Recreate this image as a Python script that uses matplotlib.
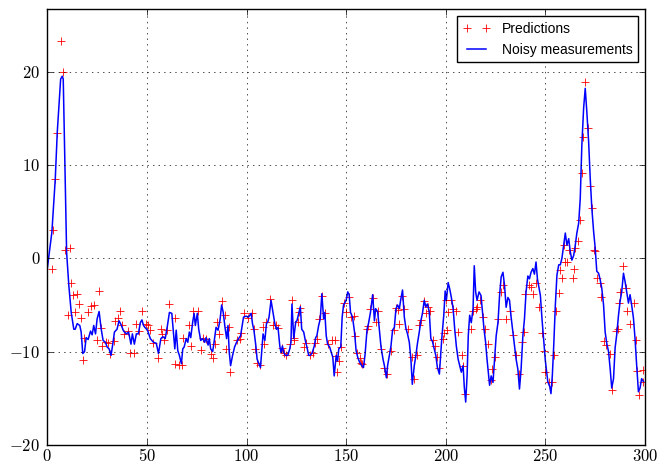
import matplotlib
matplotlib.use('Agg')
import matplotlib.pyplot as plt
from matplotlib.ticker import FuncFormatter

meas_t = [0, 2.3, 4, 5, 6.7, 7.5, 8, 8.7, 9.7, 10.8, 12, 13.3, 14, 15, 16.3, 17, 17.8, 18.7, 19.5, 20.5,
          21.7, 22.5, 23.3, 24.2, 25, 26, 27, 28, 29.2, 30, 31, 32, 33, 33.7, 35, 36, 37, 38.3, 39.7, 40.8,
          42, 42.7, 43.7, 44.7, 45.7, 46.7, 47.5, 48.3, 49, 50.3, 51.7, 53.3, 54.7, 55.8, 57, 58, 59.2, 60.3,
          61.3, 62.5, 63.3, 64, 64.7, 65.5, 66.3, 67.3, 68, 68.7, 69.7, 70.5, 71.3, 72, 73, 73.7, 74.3, 75.3,
          76, 77, 78, 79, 79.7, 80.7, 81.3, 82, 83, 83.7, 84.7, 85.7, 86.7, 87.5, 88.3, 89.2, 90, 90.7, 91.3,
          92, 93, 94, 95, 96, 97, 98.5, 99.7, 101, 102.3, 103, 103.7, 104.7, 105.3, 106.2, 107, 107.7, 108.3,
          109.2, 110, 110.7, 111.3, 112.3, 113.3, 114.2, 115, 115.8, 116.7, 117.3, 118, 118.7, 119.5, 120.7,
          121.7, 122.3, 122.8, 123.7, 124.7, 125.3, 126, 127, 127.7, 128.7, 129.5, 130.3, 131.2, 132, 133,
          134, 134.7, 135.3, 136.2, 137, 137.8, 138.7, 139.3, 140, 140.7, 141.7, 142.3, 143.3, 144, 145,
          145.7, 146.3, 147.3, 148, 148.7, 150, 150.8, 151.5, 152.2, 153.2, 154.2, 155, 155.8, 156.7, 157.8,
          158.7, 159.5, 160.5, 161.2, 162.2, 163.3, 164.2, 164.8, 165.8, 166.7, 167.5, 168.5, 169.2, 170.2,
          170.8, 171.7, 172.5, 173.3, 174.2, 175, 175.8, 176.7, 177.5, 178.3, 179.2, 180, 180.8, 181.7,
          182.5, 183.2, 184.2, 185, 185.8, 186.7, 187.5, 188.3, 189.2, 190, 190.8, 191.7, 192.5, 193.3, 194,
          195, 195.8, 196.8, 198, 199, 199.7, 200.3, 201.2, 202, 202.8, 203.7, 204.5, 205.3, 206.2, 207,
          207.8, 208.7, 209.3, 210, 210.7, 211.3, 212, 212.8, 213.7, 214.3, 215, 215.7, 216.7, 217.7, 218.3,
          219.2, 220, 220.7, 221.5, 222, 222.8, 223.7, 224.5, 225.3, 226.2, 227, 227.8, 228.7, 229.5, 230.3,
          231.2, 232, 232.8, 233.7, 234.5, 235.3, 236.2, 237, 237.8, 238.7, 239.5, 240.3, 241.2, 242, 242.8,
          243.7, 244.5, 245.3, 246, 247.5, 248.3, 249.2, 250, 251.2, 252.2, 252.8, 253.5, 254.2, 255, 255.8,
          256.7, 257.5, 258.3, 259.2, 260, 260.8, 261.7, 262.5, 263.3, 264.2, 265, 265.8, 266.7, 267.5,
          268.3, 269.2, 270, 270.8, 271.7, 272.5, 273.3, 274.2, 275, 275.8, 276.7, 277.5, 278.3, 279.2, 280,
          280.8, 281.7, 282.5, 283.3, 284.2, 285, 285.8, 286.7, 287.5, 288.3, 289.2, 290, 290.8, 291.7,
          292.5, 293.3, 294.2, 295, 295.8, 296.7, 297.5, 298.3, 299.2]
meas_v = [-1.1, 2.8, 8.5, 13.5, 19.2, 19.5, 19.2, 11.4, 0.6, -2.9, -5.8, -7.6, -7.6, -7.0, -7.2, -7.9, -10.2,
          -10.0, -8.5, -8.7, -7.8, -8.2, -7.2, -8.1, -6.5, -5.7, -7.5, -8.8, -9.0, -9.5, -9.7, -10.4, -9.0,
          -7.9, -7.6, -6.7, -7.1, -7.8, -8.1, -7.9, -9.2, -8.1, -9.2, -8.1, -8.1, -6.9, -6.6, -7.2, -7.4,
          -7.7, -8.6, -9.0, -9.1, -10.2, -8.6, -8.4, -8.6, -7.2, -5.8, -5.9, -7.9, -9.7, -7.7, -9.9, -10.4,
          -11.3, -9.7, -9.5, -8.6, -9.0, -7.9, -8.5, -6.8, -5.9, -7.2, -5.9, -7.6, -8.8, -8.6, -9.0, -8.5,
          -9.3, -8.6, -9.7, -10.0, -9.0, -7.4, -7.7, -6.6, -5.0, -5.8, -7.4, -8.6, -7.2, -10.0, -11.5, -10.4,
          -9.5, -9.0, -8.6, -8.3, -6.3, -6.2, -6.3, -5.9, -7.0, -7.7, -9.4, -10.8, -11.3, -11.7, -9.7, -8.1,
          -8.8, -7.0, -6.8, -6.3, -4.5, -5.8, -7.0, -7.6, -7.4, -9.4, -10.1, -9.4, -10.1, -10.4, -10.4, -9.7,
          -9.0, -4.9, -8.6, -6.8, -6.7, -6.1, -5.2, -7.6, -7.9, -8.8, -9.5, -10.4, -10.4, -10.1, -9.4, -8.5,
          -8.3, -7.2, -6.5, -3.8, -6.5, -5.8, -8.3, -9.2, -9.5, -9.9, -10.6, -12.6, -10.4, -11.0, -9.7, -9.5,
          -6.3, -5.0, -4.5, -3.6, -3.9, -5.8, -6.3, -7.9, -9.9, -10.6, -11.1, -11.5, -11.7, -10.3, -7.6, -7.0,
          -5.8, -3.9, -6.7, -5.4, -5.7, -7.7, -9.5, -10.8, -11.5, -12.8, -11.5, -10.4, -9.4, -7.7, -7.4,
          -5.4, -5.0, -5.4, -4.3, -3.4, -6.3, -7.5, -8.1, -9.0, -10.8, -13.5, -11.5, -10.4, -9.1, -7.9, -6.7,
          -5.9, -4.5, -5.2, -4.9, -5.7, -8.6, -8.9, -9.5, -10.4, -11.7, -12.4, -8.6, -6.1, -3.5, -4.5, -2.6,
          -3.3, -4.2, -5.4, -7.6, -9.4, -10.8, -11.5, -12.2, -11.5, -13.8, -15.4, -12.6, -8.3, -6.1, -6.9,
          -5.4, -0.8, -3.6, -4.5, -3.6, -4.0, -5.4, -7.6, -9.0, -10.8, -12.6, -13.6, -12.6, -13.3, -10.8,
          -8.3, -6.9, -4.0, -2.0, -1.5, -2.9, -5.25, -4.2, -4.5, -6.3, -7.9, -9.4, -10.8, -11.9, -14.0, -11.9,
          -8.3, -6.5, -3.6, -1.9, -2.2, -1.5, -1.1, -1.7, -0.4, -2.2, -4.0, -6.5, -8.9, -11.0, -13.2, -13.75,
          -14.5, -12.5, -9.3, -5.0, -1.8, -0.7, -0.7, 0.0, 1.4, 2.7, 1.4, 2.1, 0.7, -0.2, 0.3, 1.4, 2.7,
          3.75, 6.4, 12.1, 16.1, 18.2, 15.7, 12.5, 8.6, 5.4, 2.9, 1.1, -1.4, -1.6, -2.3, -3.2, -5.0, -7.9,
          -9.1, -10.0, -11.8, -13.9, -12.9, -9.6, -8.2, -6.1, -4.6, -3.6, -1.6, -2.5, -3.6, -4.8, -3.9, -5.0,
          -6.4, -8.6, -11.4, -14.3, -13.9, -12.9, -13.2]

# filter predictions (time step, value)
pred_t = [2.3, 3, 4, 5, 7, 8, 8.7, 10.3, 11.3, 12, 13, 14, 15, 16, 17, 18, 18.3, 20.3, 22, 23.3, 25, 26, 27,
          27.5, 29.3, 30.7, 31.7, 33.7, 34, 35.3, 36.7, 37.7, 38.7, 40.3, 41.7, 43.7, 44.7, 46, 47.7, 49.7,
          50.7, 51.7, 53.3, 55.8, 57, 57.7, 58.7, 60, 61.3, 64, 64.3, 66.3, 67.7, 68.3, 71.3, 72, 73.3, 75.8,
          77, 78.3, 79.7, 82, 83.3, 84, 85, 86, 87.5, 89.3, 89.7, 91.3, 91.7, 95, 96.7, 97.3, 98.7, 100.7,
          102.7, 103.7, 104, 105.3, 106.7, 108.3, 109, 110, 112, 113.3, 115, 115.7, 118, 118.7, 120, 122, 123,
          123.7, 124, 125.7, 126.3, 127, 128.7, 130, 131.7, 133.3, 134.3, 135.3, 136.3, 138, 139.5, 141, 143,
          144.5, 145, 145.3, 146.6, 147.2, 148.7, 150, 151.2, 152.5, 153.8, 154.5, 155.5, 156.8, 157.3, 158.2,
          160.5, 161.2, 162.2, 163.5, 164.8, 165.8, 167.5, 169.2, 170.5, 172.5, 173.8, 175, 175.8, 176.7, 178,
          179.2, 180.8, 183.3, 184.2, 185.5, 186.7, 187.5, 189.2, 190, 191.2, 192.2, 193.5, 194.8, 195.8,
          196.8, 198.7, 199.1, 200.2, 200.6, 201.2, 202.8, 203.7, 205, 206.2, 208.3, 208.7, 209.5, 212.8,
          213.7, 215, 215.7, 217, 218.7, 219.5, 221.2, 222.8, 223.3, 224.5, 226.2, 227.8, 228.7, 230.3, 232.3,
          233.7, 235.3, 236.7, 238.3, 239.5, 240, 242, 242.8, 243.7, 245.3, 247, 248.3, 249.2, 250, 251.7,
          253.3, 254.2, 255.5, 256.7, 257.5, 258.3, 259.5, 259.7, 260.8, 261.7, 263.8, 264.5, 265, 266.2,
          267.2, 268.3, 268.8, 270, 271.2, 272.2, 273.3, 274.2, 275, 275.8, 277.2, 277.8, 279.2, 280.5, 282.5,
          283.3, 285.5, 286.2, 287, 287.5, 289.2, 290.5, 291.2, 292.5, 294.5, 295.5, 295.8, 297.2, 298.8, 299.2]
pred_v = [-1.1, 3.0, 8.5, 13.4, 23.3, 19.9, 0.9, -6.1, 1.1, -2.7, -3.9, -5.8, -3.8, -4.9, -6.4, -10.9, -8.5,
          -5.8, -5.1, -5.0, -8.8, -3.5, -7.5, -9.4, -9.0, -9.1, -10.3, -8.9, -6.7, -6.4, -5.7, -7.2, -8.1,
          -7.8, -10.1, -10.1, -7.0, -7.8, -5.7, -7.0, -7.2, -7.7, -9.1, -10.7, -7.6, -8.1, -8.8, -7.7, -4.9,
          -11.3, -6.4, -11.4, -11.4, -8.5, -7.2, -9.4, -5.6, -5.6, -9.8, -8.5, -8.6, -10.2, -10.7, -9.2, -6.8,
          -8.1, -4.6, -6.1, -9.7, -7.4, -12.2, -8.8, -8.6, -8.0, -5.9, -6.4, -5.9, -7.6, -9.7, -11.2, -11.4,
          -7.4, -9.2, -6.8, -4.4, -7.1, -7.2, -7.5, -9.6, -10.1, -10.4, -9.2, -4.5, -8.8, -8.5, -6.8, -5.8,
          -5.3, -9.5, -9.1, -10.4, -10.1, -9.1, -8.6, -6.5, -4.0, -5.9, -9.2, -8.8, -8.8, -10.5, -12.2, -11.0,
          -9.5, -4.8, -5.8, -4.2, -6.3, -6.2, -8.3, -10.1, -10.7, -11.2, -11.3, -7.6, -7.3, -5.4, -4.3, -6.8,
          -5.6, -9.7, -11.7, -12.4, -9.9, -7.7, -5.3, -5.5, -7.0, -4.0, -5.4, -7.6, -10.6, -12.9, -10.4, -7.2,
          -6.6, -4.6, -5.9, -5.2, -5.7, -8.8, -9.4, -10.6, -11.7, -8.6, -8.0, -4.5, -7.7, -5.8, -4.5, -5.4,
          -5.6, -7.9, -10.4, -11.5, -14.5, -7.6, -5.6, -5.4, -5.25, -4.5, -6.3, -7.6, -9.2, -13.0, -11.9,
          -10.6, -6.5, -3.6, -2.9, -6.5, -5.6, -8.2, -10.4, -12.4, -9.0, -7.9, -3.8, -2.9, -3.1, -3.8, -2.6,
          -5.25, -8.0, -9.9, -12.2, -13.3, -13.3, -10.4, -5.7, -3.75, -1.25, -2.1, 1.4, -0.4, -0.4, 0.9, -2.1,
          -1.1, 1.1, 1.8, 4.1, 9.1, 13.0, 18.9, 14.0, 7.7, 5.4, 0.9, 0.8, -2.1, -2.6, -4.1, -8.9, -9.3, -10.3,
          -14.1, -7.8, -7.6, -4.8, -3.6, -0.8, -3.2, -5.7, -7.0, -4.8, -8.75, -12.1, -14.6, -12.0, -13.2]

plt.style.use('classic')
plt.rcParams['figure.facecolor'] = 'white'
plt.rcParams['savefig.facecolor'] = 'white'
plt.rcParams['mathtext.fontset'] = 'cm'

fig = plt.figure(figsize=(6.58, 4.64), dpi=100)
ax = fig.add_axes([47.3 / 658, 1 - 446 / 464, (645 - 47.3) / 658, (446 - 10) / 464])

ax.plot(pred_t, pred_v, 'r+', markersize=6, markeredgewidth=0.6, label='Predictions')
ax.plot(meas_t, meas_v, 'b-', linewidth=1.1, label='Noisy measurements')

ax.set_xlim(0, 300)
ax.set_ylim(-20, 26.7)
ax.set_xticks(range(0, 301, 50))
ax.set_yticks(range(-20, 21, 10))
tex = FuncFormatter(lambda v, p: f'${v:g}$')
ax.xaxis.set_major_formatter(tex)
ax.yaxis.set_major_formatter(tex)
ax.tick_params(labelsize=12)
ax.tick_params(axis='x', pad=1)
ax.tick_params(axis='y', pad=5)
ax.grid(True)

leg = ax.legend(loc='upper right', numpoints=2, prop={'family': 'Liberation Sans', 'size': 10})
leg.get_frame().set_linewidth(1.0)

fig.savefig('out.png', dpi=100)
